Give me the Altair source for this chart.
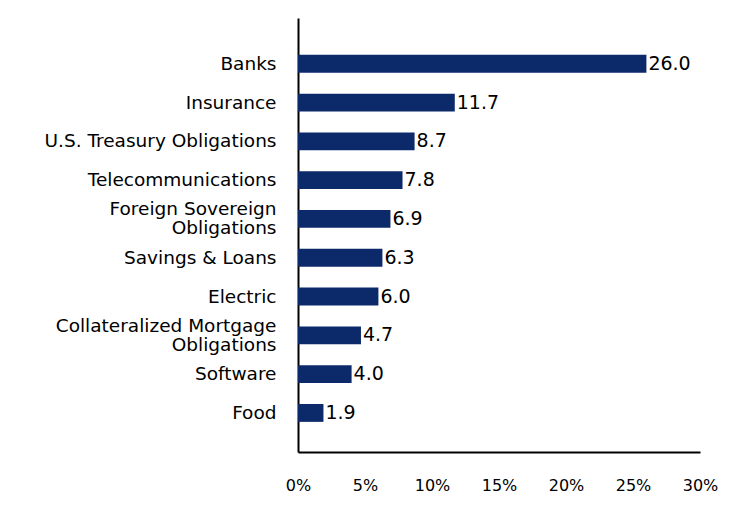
import altair as alt
import pandas as pd

categories = ["Banks", "Insurance", "U.S. Treasury Obligations", "Telecommunications",
              "Foreign Sovereign\nObligations", "Savings & Loans", "Electric",
              "Collateralized Mortgage\nObligations", "Software", "Food"]
values = [26.0, 11.7, 8.7, 7.8, 6.9, 6.3, 6.0, 4.7, 4.0, 1.9]

df = pd.DataFrame({"cat": categories, "val": values})

FONT = "DejaVu Sans"
COLOR = "#0C2A6A"

y = alt.Y("cat:N", sort=categories, title=None,
          scale=alt.Scale(paddingInner=0.54, paddingOuter=0.863, align=0.55),
          axis=alt.Axis(labelExpr="split(datum.label, '\\n')", ticks=False,
                        domainColor="black", domainWidth=2, labelFont=FONT,
                        labelFontSize=18.5, labelColor="black", labelPadding=22,
                        labelLineHeight=19, labelLimit=400, labelBaseline="middle",
                        labelOffset={"condition": {"test": "indexof(datum.value, '\\n') >= 0",
                                                   "value": -9.5},
                                     "value": 0}))
x = alt.X("val:Q", title=None,
          scale=alt.Scale(domain=[0, 30], nice=False),
          axis=alt.Axis(values=[0, 5, 10, 15, 20, 25, 30],
                        labelExpr="datum.value + '%'", grid=False, ticks=False,
                        domainColor="black", domainWidth=2, labelFont=FONT,
                        labelFontSize=16, labelColor="black", labelPadding=25,
                        labelFlush=False))

bars = alt.Chart(df).mark_bar(color=COLOR).encode(x=x, y=y)
text = alt.Chart(df).mark_text(align="left", baseline="middle", dx=2, font=FONT,
                               fontSize=19, color="black").encode(
    x="val:Q", y=alt.Y("cat:N", sort=categories), text=alt.Text("val:Q", format=".1f"))

chart = (bars + text).properties(
    width=402, height=434,
    autosize=alt.AutoSizeParams(type="none"),
    padding={"left": 298, "top": 18, "right": 44, "bottom": 76},
).configure_view(stroke=None)

chart.save("out.html", embed_options={"renderer": "svg", "actions": False})
